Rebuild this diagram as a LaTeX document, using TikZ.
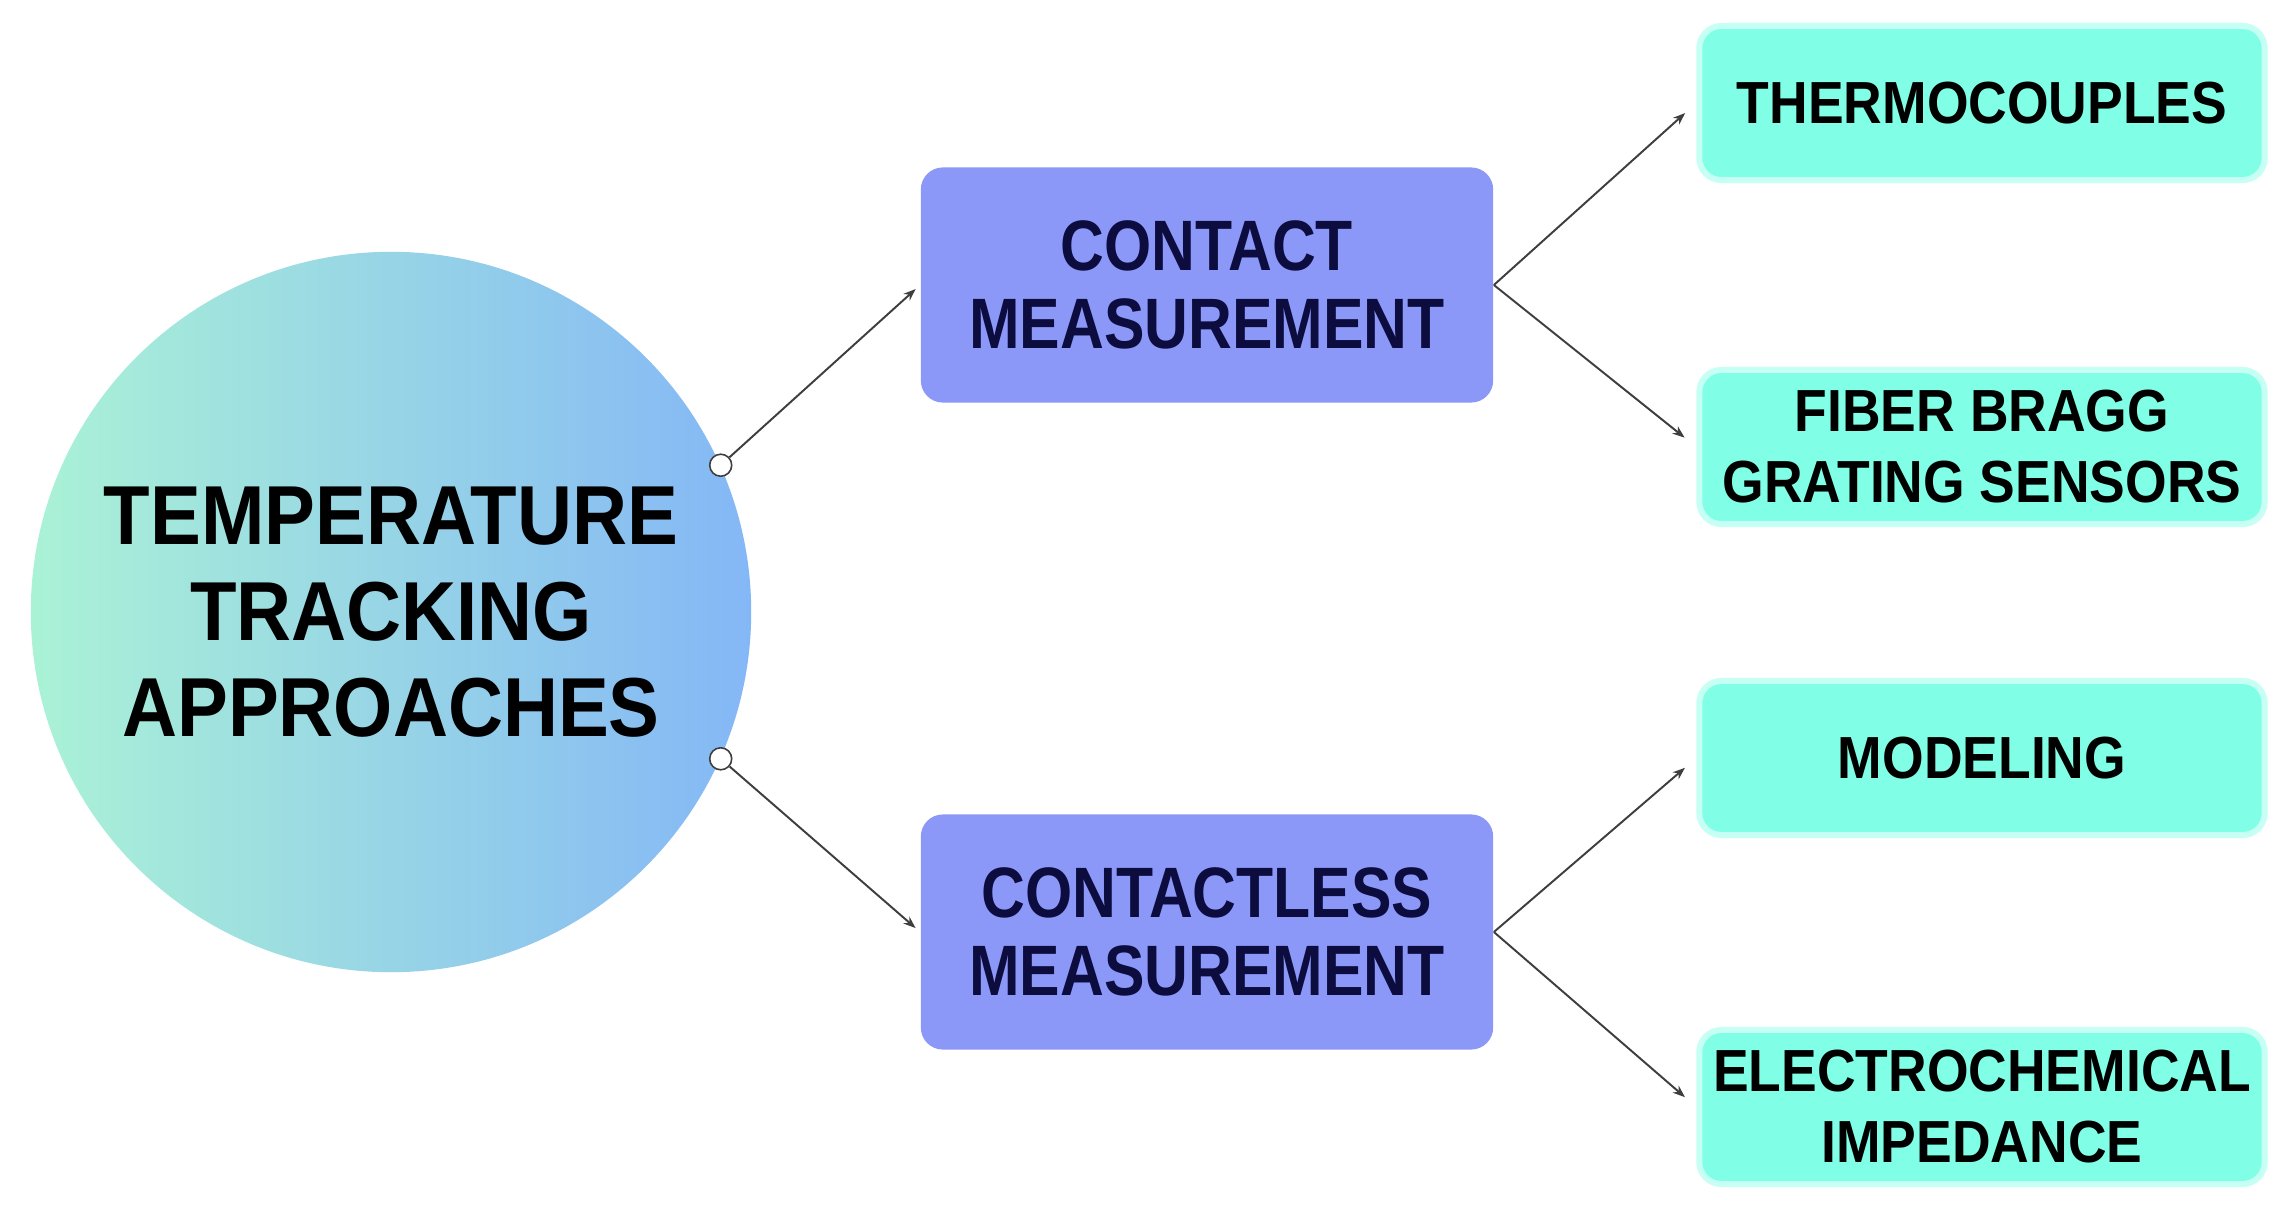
\documentclass[tikz,border=0pt]{standalone}
\usepackage{fontspec}
\usetikzlibrary{arrows.meta}

\newfontfamily\rootSans[FakeStretch=0.91]{Liberation Sans}
\newfontfamily\methodSans[FakeStretch=0.85]{Liberation Sans}
\newfontfamily\sensorSans[FakeStretch=0.90]{Liberation Sans}

\definecolor{tMint}{RGB}{170,242,214}
\definecolor{tSky}{RGB}{132,183,246}
\definecolor{tPurple}{RGB}{140,152,248}
\definecolor{tAqua}{RGB}{128,255,230}
\definecolor{tNavy}{RGB}{12,12,62}
\definecolor{tLine}{RGB}{62,62,62}

\tikzset{
  rootnode/.style={circle, minimum size=7.2cm, inner sep=0pt,
    left color=tMint, right color=tSky, align=center,
    font=\rootSans\bfseries\fontsize{23.8}{27.3}\selectfont},
  methodnode/.style={rectangle, rounded corners=0.22cm, fill=tPurple,
    minimum width=5.72cm, minimum height=2.35cm, align=center, text=tNavy,
    font=\methodSans\bfseries\fontsize{20.3}{22.2}\selectfont},
  sensornode/.style={rectangle, rounded corners=0.22cm, fill=tAqua,
    draw=tAqua!45, line width=0.06cm,
    minimum width=5.65cm, minimum height=1.54cm, align=center,
    font=\sensorSans\bfseries\fontsize{16.9}{20.2}\selectfont},
  port/.style={circle, draw=tLine, fill=white, inner sep=0pt,
    minimum size=0.22cm, line width=0.45pt},
  link/.style={draw=tLine, line width=0.55pt,
    -{Stealth[length=3.5pt,width=2.6pt]}}
}

\begin{document}
\begin{tikzpicture}[x=0.01cm, y=-0.01cm]

\useasboundingbox[fill=white] (0,0) rectangle (2281,1206);

% root
\node[rootnode] (temp) at (391,612) {TEMPERATURE\\TRACKING\\APPROACHES};

\node[port] (pTop) at (temp.24) {};
\node[port] (pBot) at (temp.-24) {};

% methods
\node[methodnode] (contact) at (1207,285) {CONTACT\\MEASUREMENT};
\node[methodnode] (contactless) at (1207,932) {CONTACTLESS\\MEASUREMENT};

% sensors
\node[sensornode] (thermo) at (1982,103) {THERMOCOUPLES};
\node[sensornode] (fbg) at (1982,447) {FIBER BRAGG\\GRATING SENSORS};
\node[sensornode] (model) at (1982,758) {MODELING};
\node[sensornode] (eis) at (1982,1107) {ELECTROCHEMICAL\\IMPEDANCE};

\draw[link, shorten >=0.06cm] (pTop) -- (contact.west);
\draw[link, shorten >=0.06cm] (pBot) -- (contactless.west);

\draw[link, shorten >=0.15cm] (contact.east) -- (thermo.west);
\draw[link, shorten >=0.15cm] (contact.east) -- (fbg.west);
\draw[link, shorten >=0.15cm] (contactless.east) -- (model.west);
\draw[link, shorten >=0.15cm] (contactless.east) -- (eis.west);

\end{tikzpicture}
\end{document}
